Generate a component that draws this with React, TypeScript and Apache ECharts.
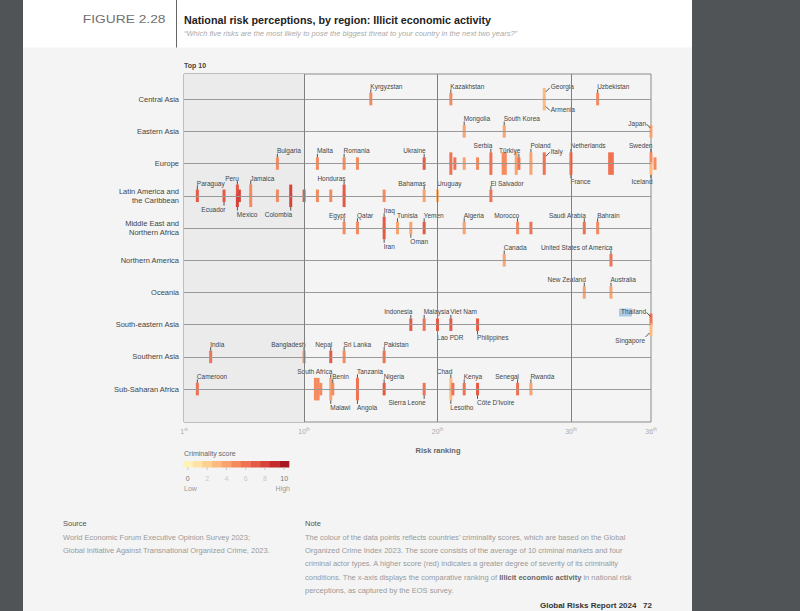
import React, { useEffect, useRef } from 'react';
import * as echarts from 'echarts';

// ---------- DATA ----------
const regions = [
  'Central Asia',
  'Eastern Asia',
  'Europe',
  'Latin America and\nthe Caribbean',
  'Middle East and\nNorthern Africa',
  'Northern America',
  'Oceania',
  'South-eastern Asia',
  'Southern Asia',
  'Sub-Saharan Africa',
];

// [country, risk ranking, criminality score]; same ranking in a region = stacked
const centralAsia: [string, number, number][] = [
  ['Kyrgyzstan', 15, 5.4], ['Kazakhstan', 21, 4.8], ['Georgia', 28, 3.2], ['Armenia', 28, 3.2], ['Uzbekistan', 32, 5.3],
];
const easternAsia: [string, number, number][] = [
  ['Mongolia', 22, 3.8], ['South Korea', 25, 4.4], ['Japan', 36, 3.9],
];
const europe: [string, number, number][] = [
  ['Bulgaria', 8, 5.3], ['Malta', 11, 4.8], ['Romania', 13, 5.3], ['', 14, 5.0], ['Ukraine', 19, 7.0],
  ['', 21, 5.6], ['', 21, 5.6], ['', 21.3, 6.2], ['', 22, 4.2], ['', 23, 5.2],
  ['Serbia', 24, 6.4], ['', 24, 6.4], ['', 24.92, 5.2], ['', 24.92, 5.2], ['', 25.08, 5.0], ['', 25.08, 5.0],
  ['', 25.9, 3.6], ['', 25.9, 3.6], ['Türkiye', 26.1, 5.6], ['Poland', 27, 4.4], ['', 27, 4.4],
  ['Italy', 28, 6.2], ['', 28, 6.2], ['Netherlands', 30, 5.8], ['France', 30, 6.0],
  ['', 32.9, 5.8], ['', 32.9, 5.8], ['', 33.1, 5.6], ['', 33.1, 5.6],
  ['Sweden', 36, 5.4], ['Iceland', 36, 3.2], ['', 36.3, 5.0],
];
const latinAmerica: [string, number, number][] = [
  ['Paraguay', 2, 7.3], ['Ecuador', 4, 7.0], ['Peru', 5, 7.4], ['Mexico', 5, 7.6], ['', 5.15, 7.8],
  ['Jamaica', 6, 5.2], ['', 6, 5.2], ['', 8, 5.4], ['', 9, 7.8], ['Colombia', 9, 7.8], ['', 10, 6.6],
  ['', 11, 5.4], ['', 12, 5.4], ['Honduras', 13, 7.2], ['', 13, 7.2], ['', 16, 5.4],
  ['Bahamas', 19, 4.4], ['Uruguay', 20, 3.4], ['El Salvador', 24, 6.4],
];
const middleEast: [string, number, number][] = [
  ['Egypt', 13, 5.0], ['Qatar', 14, 4.6], ['Iraq', 16, 7.3], ['Iran', 16, 6.9], ['Tunisia', 17, 4.4],
  ['Oman', 18, 3.8], ['Yemen', 19, 7.0], ['Algeria', 22, 4.4], ['Morocco', 26, 5.4], ['', 27, 6.2],
  ['Saudi Arabia', 31, 6.3], ['Bahrain', 32, 5.2],
];
const northernAmerica: [string, number, number][] = [
  ['Canada', 25, 3.6], ['United States of America', 33, 6.4],
];
const oceania: [string, number, number][] = [
  ['New Zealand', 31, 3.8], ['Australia', 33, 4.4],
];
const southEasternAsia: [string, number, number][] = [
  ['Indonesia', 18, 6.8], ['Malaysia', 19, 6.4], ['Lao PDR', 20, 7.0], ['Viet Nam', 21, 6.8],
  ['Philippines', 23, 6.8], ['Thailand', 36, 6.4], ['Singapore', 36, 3.2],
];
const southernAsia: [string, number, number][] = [
  ['India', 3, 6.4], ['Bangladesh', 10, 5.0], ['Nepal', 12, 6.8], ['Sri Lanka', 13, 5.4], ['Pakistan', 16, 6.4],
];
const subSaharanAfrica: [string, number, number][] = [
  ['Cameroon', 2, 6.4], ['', 10.85, 5.2], ['', 10.85, 5.2], ['', 11.05, 5.0], ['', 11.05, 5.0], ['', 11.25, 4.6],
  ['South Africa', 12, 3.8], ['Malawi', 12, 3.8], ['Benin', 12.15, 5.4], ['Tanzania', 14, 5.6], ['Angola', 14, 5.6],
  ['Nigeria', 16, 7.0], ['Sierra Leone', 19, 5.6], ['Chad', 21, 3.4], ['Lesotho', 21, 3.4], ['', 21.15, 6.0],
  ['Kenya', 22, 6.4], ["Côte D'Ivoire", 23, 6.6], ['Senegal', 26, 6.0], ['Rwanda', 27, 4.2],
];
const regionData = [
  centralAsia, easternAsia, europe, latinAmerica, middleEast,
  northernAmerica, oceania, southEasternAsia, southernAsia, subSaharanAfrica,
];

const rankTicks = [1, 10, 20, 30, 36];
const rankGridLines = [10, 20, 30];
const topTenRange = [1, 10];
const scoreTicks = [0, 2, 4, 6, 8, 10];
const scoreColors = [
  '#fff2b8', '#fee3a4', '#fdd08f', '#fcba7e', '#faa36e', '#f68a5f',
  '#ef7252', '#e55a44', '#d84238', '#c52b2c', '#a8171f',
];

// ---------- LABEL PLACEMENT (style) ----------
// T/B = above/below, > text runs right from the mark, < text ends at the mark
// D/d = diagonal leader up / down
const labelPlacement: Record<string, string> = {
  Kyrgyzstan: 'T>', Kazakhstan: 'T>', Georgia: 'D>', Armenia: 'd>', Uzbekistan: 'T>',
  Mongolia: 'T>', 'South Korea': 'T>', Japan: 'D<',
  Bulgaria: 'T>', Malta: 'T>', Romania: 'T>', Ukraine: 'T<', Serbia: 'T<', 'Türkiye': 'T<', Poland: 'T>',
  Italy: 'D>', Netherlands: 'T>', France: 'B>', Sweden: 'T<', Iceland: 'B<',
  Paraguay: 'T>', Ecuador: 'B<', Peru: 'T<', Mexico: 'B>', Jamaica: 'T>', Colombia: 'B<', Honduras: 'T<',
  Bahamas: 'T<', Uruguay: 'T>', 'El Salvador': 'T>',
  Egypt: 'T<', Qatar: 'T>', Iraq: 'T>', Iran: 'B>', Tunisia: 'T>', Oman: 'B>', Yemen: 'T>', Algeria: 'T>',
  Morocco: 'T<', 'Saudi Arabia': 'T<', Bahrain: 'T>',
  Canada: 'T>', 'United States of America': 'T<',
  'New Zealand': 'T<', Australia: 'T>',
  Indonesia: 'T<', Malaysia: 'T>', 'Lao PDR': 'B>', 'Viet Nam': 'T>', Philippines: 'B>', Thailand: 'D<', Singapore: 'd<',
  India: 'T>', Bangladesh: 'T<', Nepal: 'T<', 'Sri Lanka': 'T>', Pakistan: 'T>',
  Cameroon: 'T>', 'South Africa': 'T<', Malawi: 'B>', Benin: 'T>', Tanzania: 'T>', Angola: 'B>', Nigeria: 'T>',
  'Sierra Leone': 'B<', Chad: 'T<', Lesotho: 'B>', Kenya: 'T>', "Côte D'Ivoire": 'B>', Senegal: 'T<', Rwanda: 'T>',
};

const FONT = 'Liberation Sans, Arial, sans-serif';

export default function App() {
  const ref = useRef<HTMLDivElement>(null);

  useEffect(() => {
    if (!ref.current) return;
    const chart = echarts.init(ref.current, null, { renderer: 'svg' });

    type Pt = { name: string; rank: number; row: number; score: number; k: number; n: number };
    const pts: Pt[] = [];
    regionData.forEach((list, row) => {
      list.forEach((d, i) => {
        const sameIdx = list.map((e, j) => (e[1] === d[1] ? j : -1)).filter((j) => j >= 0);
        pts.push({ name: d[0], rank: d[1], row, score: d[2], k: sameIdx.indexOf(i), n: sameIdx.length });
      });
    });

    const BW = 3;
    const BH = 12.5;
    const STEP = 10;

    const renderItem = (params: any, api: any) => {
      const p = pts[params.dataIndex];
      const c = api.coord([api.value(0), api.value(1)]);
      const dy = (p.k - (p.n - 1) / 2) * STEP;
      const cx = c[0];
      const cy = c[1] + dy;
      const top = cy - BH / 2;
      const bot = cy + BH / 2;
      const color = api.visual('color');
      const children: any[] = [
        { type: 'rect', shape: { x: cx - BW / 2, y: top, width: BW, height: BH }, style: { fill: color } },
      ];
      const pl = p.name ? labelPlacement[p.name] : undefined;
      if (pl) {
        const ls = { stroke: '#2a2a2a', lineWidth: 0.8 };
        const line = (x1: number, y1: number, x2: number, y2: number) => ({
          type: 'line', shape: { x1, y1, x2, y2 }, style: ls, z2: 5,
        });
        const txt = (x: number, y: number, align: string) => ({
          type: 'text', x, y, z2: 6,
          style: {
            text: p.name, fill: '#444', fontSize: 6.5, fontFamily: FONT,
            align, verticalAlign: 'middle',
          },
        });
        if (pl === 'T>') { children.push(line(cx, top, cx, top - 3.5), txt(cx - 0.5, top - 6.5, 'left')); }
        else if (pl === 'T<') { children.push(line(cx, top, cx, top - 3.5), txt(cx + 1.5, top - 6.5, 'right')); }
        else if (pl === 'B>') { children.push(line(cx, bot, cx, bot + 3.5), txt(cx - 0.5, bot + 7, 'left')); }
        else if (pl === 'B<') { children.push(line(cx, bot, cx, bot + 3.5), txt(cx + 1.5, bot + 7, 'right')); }
        else if (pl === 'D>') { children.push(line(cx + 1.5, top + 4, cx + 5.5, top), txt(cx + 6.5, top - 1, 'left')); }
        else if (pl === 'd>') { children.push(line(cx + 1.5, bot - 4, cx + 5.5, bot), txt(cx + 6.5, bot - 1, 'left')); }
        else if (pl === 'D<') { children.push(line(cx - 0.5, top + 3, cx - 4.5, top - 1), txt(cx - 5, top - 1.5, 'right')); }
        else if (pl === 'd<') { children.push(line(cx - 1.5, bot - 3, cx - 5.5, bot + 1), txt(cx - 6, bot + 5, 'right')); }
      }
      return { type: 'group', children };
    };

    const g = (o: any) => o;
    const legendX = 183;
    const legendW = 106;
    const segW = legendW / scoreColors.length;

    const graphic: any[] = [
      // page
      g({ type: 'rect', z: -10, shape: { x: 23, y: 0, width: 669, height: 611 }, style: { fill: '#f4f4f4' } }),
      g({ type: 'rect', z: -9, shape: { x: 23, y: 0, width: 669, height: 47.5 }, style: { fill: '#ffffff' } }),
      g({ type: 'line', z: -8, shape: { x1: 176.5, y1: 0, x2: 176.5, y2: 47.5 }, style: { stroke: '#666', lineWidth: 1 } }),
      g({ type: 'text', x: 165.5, y: 19.5, scaleX: 1.2, style: { text: 'FIGURE 2.28', fill: '#707070', fontSize: 11.5, fontFamily: FONT, align: 'right', verticalAlign: 'middle' } }),
      g({ type: 'text', x: 184, y: 19.5, style: { text: 'National risk perceptions, by region: Illicit economic activity', fill: '#222', fontSize: 10.75, fontWeight: 'bold', fontFamily: FONT, align: 'left', verticalAlign: 'middle' } }),
      g({ type: 'text', x: 184, y: 33.5, style: { text: '\u201CWhich five risks are the most likely to pose the biggest threat to your country in the next two years?\u201D', fill: '#aaaaaa', fontSize: 7.5, fontStyle: 'italic', fontFamily: FONT, align: 'left', verticalAlign: 'middle' } }),
      g({ type: 'text', x: 184, y: 65.5, style: { text: 'Top 10', fill: '#444', fontSize: 7, fontWeight: 'bold', fontFamily: FONT, align: 'left', verticalAlign: 'middle' } }),
      g({ type: 'text', x: 438, y: 450.5, style: { text: 'Risk ranking', fill: '#666', fontSize: 7.5, fontWeight: 'bold', fontFamily: FONT, align: 'center', verticalAlign: 'middle' } }),
      // legend
      g({ type: 'text', x: 184, y: 453, style: { text: 'Criminality score', fill: '#666', fontSize: 7, fontFamily: FONT, align: 'left', verticalAlign: 'middle' } }),
      ...scoreColors.map((c, i) => g({ type: 'rect', shape: { x: legendX + i * segW, y: 461, width: segW + 0.3, height: 6.5 }, style: { fill: c } })),
      ...scoreTicks.map((s) => g({ type: 'line', shape: { x1: legendX + (s + 0.5) * segW, y1: 467.5, x2: legendX + (s + 0.5) * segW, y2: 470 }, style: { stroke: '#bbb', lineWidth: 0.8 } })),
      ...scoreTicks.map((s, i) => g({ type: 'text', x: legendX + (s + 0.5) * segW, y: 478.5, style: { text: String(s), fill: i === 0 || i === scoreTicks.length - 1 ? '#777' : '#c8c8c8', fontSize: 7, fontFamily: FONT, align: 'center', verticalAlign: 'middle' } })),
      g({ type: 'text', x: 184, y: 488, style: { text: 'Low', fill: '#999', fontSize: 7, fontFamily: FONT, align: 'left', verticalAlign: 'middle' } }),
      g({ type: 'text', x: 290, y: 488, style: { text: 'High', fill: '#999', fontSize: 7, fontFamily: FONT, align: 'right', verticalAlign: 'middle' } }),
      // Thailand selection highlight
      g({ type: 'rect', z: 0, shape: { x: 619, y: 308.5, width: 13, height: 8 }, style: { fill: '#a9cbe9' } }),
      // footer
      g({ type: 'text', x: 63, y: 523.5, style: { text: 'Source', fill: '#555', fontSize: 7.5, fontFamily: FONT, align: 'left', verticalAlign: 'middle' } }),
      g({ type: 'text', x: 63, y: 530.5, style: { text: 'World Economic Forum Executive Opinion Survey 2023;\nGlobal Initiative Against Transnational Organized Crime, 2023.', fill: '#9a9a9a', fontSize: 7.5, lineHeight: 13.3, fontFamily: FONT, align: 'left', verticalAlign: 'top' }, }),
      g({ type: 'text', x: 305, y: 523.5, style: { text: 'Note', fill: '#555', fontSize: 7.5, fontFamily: FONT, align: 'left', verticalAlign: 'middle' } }),
      g({
        type: 'text', x: 305, y: 530.5,
        style: {
          text:
            'The colour of the data points reflects countries\u2019 criminality scores, which are based on the Global\n' +
            'Organized Crime Index 2023. The score consists of the average of 10 criminal markets and four\n' +
            'criminal actor types. A higher score (red) indicates a greater degree of severity of its criminality\n' +
            'conditions. The x-axis displays the comparative ranking of {b|Illicit economic activity} in national risk\n' +
            'perceptions, as captured by the EOS survey.',
          fill: '#9a9a9a', fontSize: 7.5, lineHeight: 13.3, fontFamily: FONT, align: 'left', verticalAlign: 'top',
          rich: { b: { fontWeight: 'bold', fill: '#666', fontSize: 7.5, lineHeight: 13.3, fontFamily: FONT } },
        },
      }),
      g({ type: 'text', x: 652, y: 605, style: { text: 'Global Risks Report 2024   72', fill: '#333', fontSize: 8, fontWeight: 'bold', fontFamily: FONT, align: 'right', verticalAlign: 'middle' } }),
    ];

    const option: any = {
      animation: false,
      backgroundColor: '#505456',
      textStyle: { fontFamily: FONT },
      grid: {
        left: 184, right: 149, top: 74, bottom: 189,
        show: true, borderColor: '#8a8a8a', borderWidth: 1, backgroundColor: 'transparent',
      },
      xAxis: {
        type: 'value', min: 1, max: 36,
        axisLine: { show: false }, axisTick: { show: false }, splitLine: { show: false },
        axisLabel: {
          customValues: rankTicks, margin: 5,
          formatter: (v: number) => `{n|${v}}{s|${v === 1 ? 'st' : 'th'}}`,
          rich: {
            n: { fontSize: 7, color: '#aaa', lineHeight: 9, fontFamily: FONT },
            s: { fontSize: 4.5, color: '#aaa', lineHeight: 9, verticalAlign: 'top', fontFamily: FONT },
          },
        },
      },
      yAxis: {
        type: 'value', inverse: true, min: -0.78, max: 10.02,
        axisLine: { show: false }, axisTick: { show: false }, splitLine: { show: false },
        axisLabel: {
          customValues: regions.map((_, i) => i), margin: 5,
          formatter: (v: number) => regions[Math.round(v)] ?? '',
          color: '#444', fontSize: 7.5, lineHeight: 9.5, fontFamily: FONT, align: 'right',
        },
      },
      visualMap: {
        type: 'piecewise', show: false, dimension: 2, seriesIndex: 1,
        pieces: scoreColors.map((c, i) => ({ gte: i - 0.5, lt: i + 0.5, color: c })),
      },
      graphic,
      series: [
        {
          type: 'scatter', data: [], z: 1, silent: true,
          markArea: {
            silent: true,
            itemStyle: { color: '#ebebeb' },
            data: [[{ xAxis: topTenRange[0] }, { xAxis: topTenRange[1] }]],
          },
          markLine: {
            silent: true, symbol: ['none', 'none'], label: { show: false },
            data: [
              ...regions.map((_, i) => ({ yAxis: i, lineStyle: { color: '#9a9a9a', width: 1, type: 'solid' } })),
              ...rankGridLines.map((r) => ({ xAxis: r, lineStyle: { color: '#808080', width: 1, type: 'solid' } })),
            ],
          },
        },
        {
          type: 'custom', z: 3, clip: false,
          renderItem,
          encode: { x: 0, y: 1 },
          data: pts.map((p) => ({ name: p.name, value: [p.rank, p.row, p.score] })),
        },
      ],
    };

    chart.setOption(option);
    return () => chart.dispose();
  }, []);

  return <div ref={ref} style={{ position: 'fixed', left: 0, top: 0, width: 800, height: 611 }} />;
}
